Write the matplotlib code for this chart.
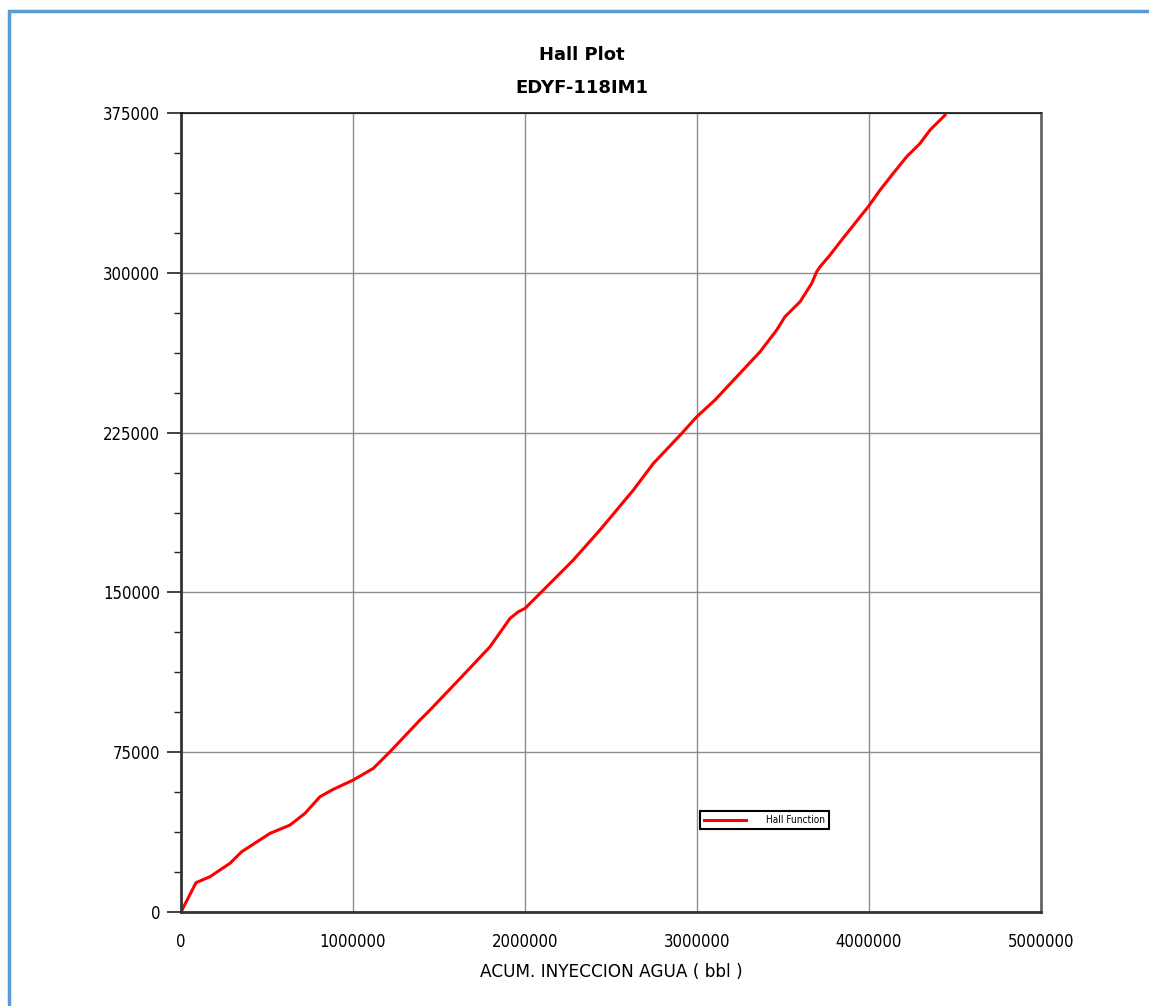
import numpy as np
import matplotlib
matplotlib.use("Agg")
from matplotlib import pyplot as plt
from matplotlib.patches import Rectangle
from matplotlib.ticker import MultipleLocator

# Datos (acumulado de inyeccion vs funcion de Hall)
acum_agua = [0, 87200, 168600, 284900, 352900, 517400, 633700, 720900,
             808100, 885700, 1001900, 1118000, 1215000, 1389500, 1447700,
             1632000, 1796500, 1912800, 1961000, 2000000, 2097000, 2280800,
             2436000, 2629700, 2746000, 2911000, 2998000, 3104600, 3366300,
             3463000, 3511600, 3599000, 3666700, 3695800, 3715000, 3773000,
             3841000, 4000000, 4064000, 4141000, 4219000, 4296500, 4354700,
             4442000]
hall_func = [0, 13750, 16570, 22850, 28300, 36900, 40800, 46300,
             54100, 57600, 61950, 67400, 75200, 90100, 94800,
             110400, 124500, 137800, 140900, 142500, 150300, 165200,
             179300, 198000, 210500, 224600, 232400, 240300, 262900,
             273100, 279400, 286400, 295000, 300500, 302800, 308300,
             315400, 331500, 338800, 346700, 354500, 360700, 367000,
             374000]

x_ticks = [0, 1000000, 2000000, 3000000, 4000000, 5000000]
y_ticks = [0, 75000, 150000, 225000, 300000, 375000]

fig = plt.figure(figsize=(11.49, 10.06), dpi=100)
ax = fig.add_axes([181/1149, 1 - 912/1006, 860/1149, 799/1006])

ax.plot(acum_agua, hall_func, color='red', lw=2.2, label='Hall Function')

ax.set_xlim(0, 5000000)
ax.set_ylim(0, 375000)
ax.set_xticks(x_ticks)
ax.set_yticks(y_ticks)
ax.yaxis.set_minor_locator(MultipleLocator(18750))
ax.grid(True, which='major', color='#8c8c8c', lw=1.0)

tick_font = dict(family='DejaVu Sans', stretch='condensed', size=12)
ax.set_xticklabels([str(v) for v in x_ticks], **tick_font)
ax.set_yticklabels([str(v) for v in y_ticks], **tick_font)
ax.tick_params(axis='x', length=0, pad=15)
ax.tick_params(axis='y', which='major', length=10, width=1.2, color='#222222', pad=5)
ax.tick_params(axis='y', which='minor', length=5, width=1.0, color='#222222')

for side in ['left', 'bottom']:
    ax.spines[side].set_color('#333333')
    ax.spines[side].set_linewidth(2.0)
ax.spines['top'].set_color('#111111')
ax.spines['top'].set_linewidth(1.2)
ax.spines['right'].set_color('#666666')
ax.spines['right'].set_linewidth(2.0)

ax.set_xlabel('ACUM. INYECCION AGUA ( bbl )', fontsize=12.2, family='DejaVu Sans',
              labelpad=9)

fig.text(582/1149, 1 - 55/1006, 'Hall Plot', ha='center', va='center',
         fontsize=13, fontweight='bold', family='DejaVu Sans')
fig.text(582/1149, 1 - 88/1006, 'EDYF-118IM1', ha='center', va='center',
         fontsize=13, fontweight='bold', family='DejaVu Sans')

leg = ax.legend(loc='upper left', bbox_to_anchor=((700-181)/860, (912-811)/799),
                prop={'family': 'DejaVu Sans', 'stretch': 'condensed', 'size': 7.2},
                fancybox=False, edgecolor='black', framealpha=1,
                handlelength=4.2, borderpad=0.4, handletextpad=2.0,
                borderaxespad=0)
leg.get_frame().set_linewidth(1.5)

# marco azul exterior
fig.patches.append(Rectangle((8.5/1149, -0.1), 1.2, 1 - 11.5/1006 + 0.1,
                             transform=fig.transFigure, fill=False,
                             edgecolor='#5b9bd5', lw=2.5))

plt.savefig('out.png', dpi=100)
